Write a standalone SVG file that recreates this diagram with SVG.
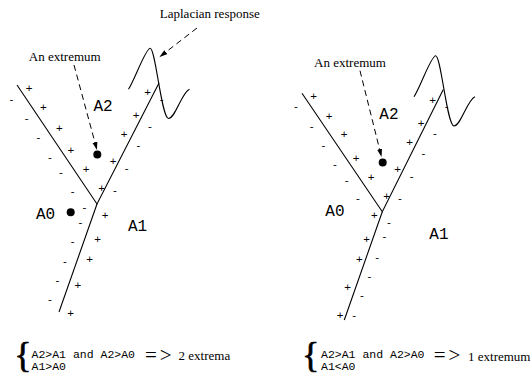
<svg xmlns="http://www.w3.org/2000/svg" width="532" height="376" viewBox="0 0 532 376">
<style>
.ln{stroke:#000;stroke-width:1.1;fill:none}
.wave{stroke:#000;stroke-width:1.1;fill:none}
.dash{stroke:#000;stroke-width:1;fill:none;stroke-dasharray:6 4}
.serif{font-family:"Liberation Serif","Times New Roman",serif;font-size:13px;fill:#000}
.mono{font-family:"Liberation Mono","Courier New",monospace;font-size:16px;fill:#000}
.monos{font-family:"Liberation Mono","Courier New",monospace;font-size:11.5px;fill:#000}
.signs{opacity:0.99}
.p,.m{font-family:"Liberation Sans",Arial,sans-serif;font-size:11.5px;fill:#000;text-anchor:middle;dominant-baseline:central}
.brace{font-family:"Liberation Serif","Times New Roman",serif;font-size:36px;fill:#000;stroke:#000;stroke-width:0.7}
.imp{font-family:"Liberation Serif","Times New Roman",serif;font-size:21px;fill:#000;letter-spacing:3px}
</style>
<defs>
<marker id="ah" markerUnits="userSpaceOnUse" markerWidth="10" markerHeight="8" refX="8" refY="2.5" orient="auto">
<path d="M0,0 L8,2.5 L0,5 z" fill="#000"/>
</marker>
<path id="wv" d="M414,96.7 C420,88 431,55.7 435.7,55.7 C441,55.7 447,126 454,126 C461,126 467,100 475,96.7"/>
</defs>

<g id="left-panel">
  <g id="left-edges">
    <path class="ln" d="M17,85 L97,204 L159,83"/>
    <path class="ln" d="M97,204 L59,312"/>
    <use href="#wv" class="wave" transform="translate(-285.5,-7.5)"/>
  </g>
  <g id="left-signs" class="signs">
    <text class="p" x="29" y="88">+</text>
    <text class="p" x="43.3" y="107">+</text>
    <text class="p" x="59.3" y="127.5">+</text>
    <text class="p" x="70.8" y="150">+</text>
    <text class="p" x="86" y="169">+</text>
    <text class="p" x="101.6" y="187.5">+</text>
    <text class="p" x="147.6" y="91.6">+</text>
    <text class="p" x="136" y="115">+</text>
    <text class="p" x="124" y="134">+</text>
    <text class="p" x="113" y="161">+</text>
    <text class="p" x="105" y="215">+</text>
    <text class="p" x="97.5" y="238.5">+</text>
    <text class="p" x="89.5" y="258.5">+</text>
    <text class="p" x="77.8" y="285">+</text>
    <text class="p" x="70.5" y="312.5">+</text>
    <text class="m" x="11.5" y="98.5">-</text>
    <text class="m" x="26.7" y="117.5">-</text>
    <text class="m" x="38.3" y="137">-</text>
    <text class="m" x="50" y="157">-</text>
    <text class="m" x="61" y="172">-</text>
    <text class="m" x="72.7" y="191">-</text>
    <text class="m" x="161.7" y="98.8">-</text>
    <text class="m" x="150" y="125.7">-</text>
    <text class="m" x="138.3" y="145">-</text>
    <text class="m" x="126.7" y="167.7">-</text>
    <text class="m" x="115" y="190">-</text>
    <text class="m" x="84.3" y="207">-</text>
    <text class="m" x="80.3" y="222">-</text>
    <text class="m" x="72.7" y="240.7">-</text>
    <text class="m" x="65" y="260.7">-</text>
    <text class="m" x="57.3" y="279.7">-</text>
    <text class="m" x="50" y="299">-</text>
  </g>
  <g id="left-A2"><text class="mono" x="93.5" y="111">A2</text></g>
  <g id="left-A0"><text class="mono" x="36" y="219">A0</text></g>
  <g id="left-A1"><text class="mono" x="128" y="231">A1</text></g>
  <g id="left-extremum"><circle cx="97.3" cy="154.5" r="4"/></g>
  <g id="left-A0-extremum"><circle cx="70.7" cy="212.3" r="4"/></g>
  <g id="left-label-extremum"><text class="serif" x="28.8" y="60.7">An extremum</text></g>
  <g id="left-label-laplacian"><text class="serif" x="159.8" y="18.3">Laplacian response</text></g>
  <g id="left-formula">
    <text class="brace" x="14.2" y="366.5">{</text>
    <text class="monos" x="31.5" y="357.5">A2&gt;A1 and A2&gt;A0</text>
    <text class="monos" x="31.5" y="369.5">A1&gt;A0</text>
    <text class="imp" x="145" y="362">=&gt;</text>
    <text class="serif" x="178.6" y="360">2 extrema</text>
  </g>
</g>

<g id="right-panel">
  <g id="right-edges">
    <path class="ln" d="M302,93.3 L382.3,211.7 L443.3,89.5"/>
    <path class="ln" d="M382.3,211.7 L344.3,320"/>
    <use href="#wv" class="wave"/>
  </g>
  <g id="right-signs" class="signs">
    <text class="p" x="313.5" y="96">+</text>
    <text class="p" x="329" y="115.5">+</text>
    <text class="p" x="344.2" y="134">+</text>
    <text class="p" x="356" y="158">+</text>
    <text class="p" x="371" y="177">+</text>
    <text class="p" x="386.5" y="196">+</text>
    <text class="p" x="432.5" y="100">+</text>
    <text class="p" x="421" y="122.5">+</text>
    <text class="p" x="409.5" y="142">+</text>
    <text class="p" x="397.7" y="169.3">+</text>
    <text class="p" x="374.3" y="215">+</text>
    <text class="p" x="366.7" y="239">+</text>
    <text class="p" x="359.3" y="259">+</text>
    <text class="p" x="347.7" y="286.7">+</text>
    <text class="p" x="340" y="315">+</text>
    <text class="m" x="296" y="106">-</text>
    <text class="m" x="311.7" y="126.3">-</text>
    <text class="m" x="323.3" y="145">-</text>
    <text class="m" x="335" y="164">-</text>
    <text class="m" x="346.7" y="179.5">-</text>
    <text class="m" x="358" y="198.3">-</text>
    <text class="m" x="446.7" y="105.7">-</text>
    <text class="m" x="435" y="133">-</text>
    <text class="m" x="423.3" y="153">-</text>
    <text class="m" x="411.7" y="175.7">-</text>
    <text class="m" x="400" y="198.3">-</text>
    <text class="m" x="388.8" y="221.7">-</text>
    <text class="m" x="384.3" y="236.3">-</text>
    <text class="m" x="377.2" y="256.7">-</text>
    <text class="m" x="369.3" y="275.7">-</text>
    <text class="m" x="362" y="294.7">-</text>
    <text class="m" x="354.2" y="315">-</text>
  </g>
  <g id="right-A2"><text class="mono" x="379.3" y="119">A2</text></g>
  <g id="right-A0"><text class="mono" x="325.3" y="215.7">A0</text></g>
  <g id="right-A1"><text class="mono" x="429.3" y="239">A1</text></g>
  <g id="right-extremum"><circle cx="382.7" cy="162.5" r="4"/></g>
  <g id="right-label-extremum"><text class="serif" x="314.1" y="66.7">An extremum</text></g>
  <g id="right-formula">
    <text class="brace" x="301.9" y="366.5">{</text>
    <text class="monos" x="321" y="357.5">A2&gt;A1 and A2&gt;A0</text>
    <text class="monos" x="321" y="369.5">A1&lt;A0</text>
    <text class="imp" x="433.7" y="362">=&gt;</text>
    <text class="serif" x="468" y="360.5">1 extremum</text>
  </g>
</g>

<g id="connectors">
  <path class="dash" d="M74,65 L97,150" marker-end="url(#ah)"/>
  <path class="dash" d="M197,28 L159.5,57" marker-end="url(#ah)"/>
  <path class="dash" d="M360,70.7 L381.5,157" marker-end="url(#ah)"/>
</g>
</svg>
